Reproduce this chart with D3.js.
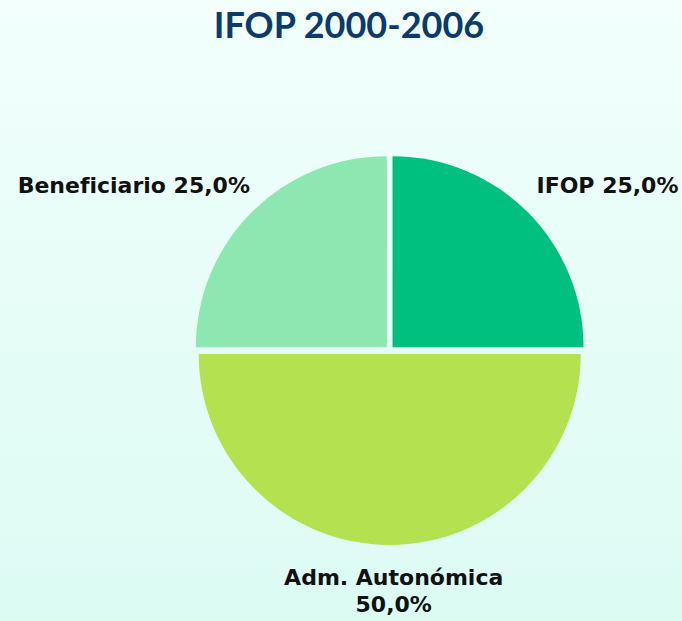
<!DOCTYPE html>
<html lang="es">
<head>
  <meta charset="UTF-8">
  <title>IFOP 2000-2006</title>
  <script src="https://d3js.org/d3.v7.min.js"></script>
  <style>
    body { margin: 0; background: #ffffff; }
    svg { display: block; font-family: "Lato", "DejaVu Sans", sans-serif; }
  </style>
</head>
<body>
  <script>
    const width = 682;
    const height = 621;

    // datos del gráfico
    const categories = ["IFOP", "Adm. Autonómica", "Beneficiario"];
    const values = [25.0, 50.0, 25.0];
    const colours = ["#00C080", "#B4E150", "#8CE8B0"];

    const cx = 389.7, cy = 350;
    const radius = 191;
    const explode = 4;

    const svg = d3.select("body").append("svg")
        .attr("width", width)
        .attr("height", height);

    const grad = svg.append("defs").append("linearGradient")
        .attr("id", "bg")
        .attr("x1", 0).attr("y1", 0).attr("x2", 0).attr("y2", 1);
    grad.append("stop").attr("offset", "0%").attr("stop-color", "#F2FFFC");
    grad.append("stop").attr("offset", "100%").attr("stop-color", "#DBFBF3");

    svg.append("rect")
        .attr("width", width)
        .attr("height", height)
        .attr("fill", "url(#bg)");

    svg.append("text")
        .attr("x", 349)
        .attr("y", 38)
        .attr("text-anchor", "middle")
        .attr("font-size", 36)
        .attr("font-weight", "bold")
        .attr("fill", "#0B3A6B")
        .text("IFOP 2000-2006");

    const pie = d3.pie().sort(null).value(d => d);
    const arcs = pie(values);

    const arc = d3.arc().innerRadius(0).outerRadius(radius);

    const g = svg.append("g").attr("transform", `translate(${cx},${cy})`);

    g.selectAll("path")
      .data(arcs)
      .join("path")
        .attr("d", arc)
        .attr("fill", (d, i) => colours[i])
        .attr("transform", d => {
          const a = (d.startAngle + d.endAngle) / 2;
          return `translate(${explode * Math.sin(a)},${-explode * Math.cos(a)})`;
        });

    const fmt = v => v.toFixed(1).replace(".", ",") + "%";

    // etiquetas
    arcs.forEach((d, i) => {
      const a = (d.startAngle + d.endAngle) / 2;
      const text = g.append("text")
          .attr("font-family", "'DejaVu Sans', sans-serif")
          .attr("font-size", 22)
          .attr("font-weight", "bold")
          .attr("fill", "#111111");
      if (Math.abs(a - Math.PI) < 0.01) {
        text.attr("text-anchor", "middle")
            .attr("x", 4)
            .attr("y", 235);
        text.append("tspan").attr("x", 4).text(categories[i]);
        text.append("tspan").attr("x", 4).attr("dy", 27).text(fmt(values[i]));
      } else {
        const lr = 233;
        const x = lr * Math.sin(a), y = -lr * Math.cos(a);
        const right = a < Math.PI;
        text.attr("text-anchor", right ? "start" : "end")
            .attr("x", right ? x - 18 : x + 25)
            .attr("y", y + 8)
            .text(`${categories[i]} ${fmt(values[i])}`);
      }
    });
  </script>
</body>
</html>
